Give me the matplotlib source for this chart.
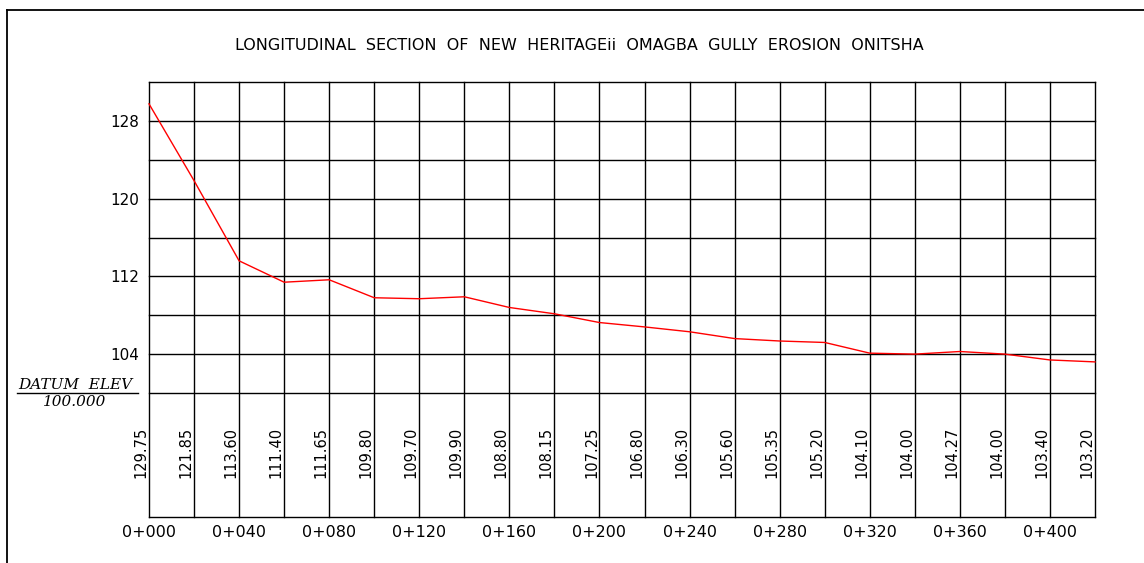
import matplotlib
matplotlib.use("Agg")
import matplotlib.pyplot as plt

# chainage (m) and ground level (m) along the gully
chainage = list(range(0, 421, 20))
ground_level = [129.75, 121.85, 113.60, 111.40, 111.65, 109.80, 109.70, 109.90,
                108.80, 108.15, 107.25, 106.80, 106.30, 105.60, 105.35, 105.20,
                104.10, 104.00, 104.27, 104.00, 103.40, 103.20]
level_labels = ["129.75", "121.85", "113.60", "111.40", "111.65", "109.80",
                "109.70", "109.90", "108.80", "108.15", "107.25", "106.80",
                "106.30", "105.60", "105.35", "105.20", "104.10", "104.00",
                "104.27", "104.00", "103.40", "103.20"]
elev_ticks = [104, 112, 120, 128]
station_ticks = list(range(0, 401, 40))
station_labels = ["0+%03d" % s for s in station_ticks]

DATUM = 100.0
TOP = 132.0
title = "LONGITUDINAL  SECTION  OF  NEW  HERITAGEii  OMAGBA  GULLY  EROSION  ONITSHA"

W, H = 1144, 563
fig = plt.figure(figsize=(W / 100, H / 100), dpi=100)
fig.patch.set_facecolor("white")

# outer drawing frame
fig.add_artist(plt.Line2D([7 / W, 7 / W], [0, 1 - 10 / H], color="black", lw=1.3))
fig.add_artist(plt.Line2D([7 / W, 1], [1 - 10 / H, 1 - 10 / H], color="black", lw=1.3))

# plot area (grid region above the datum)
x0, x1 = 149, 1095
y_top, y_datum, y_band = 82, 393, 517
ax = fig.add_axes([x0 / W, 1 - y_datum / H, (x1 - x0) / W, (y_datum - y_top) / H])
ax.set_xlim(0, 420)
ax.set_ylim(DATUM, TOP)
for s in ax.spines.values():
    s.set_visible(False)
ax.set_xticks([])
ax.set_yticks(elev_ticks)
ax.set_yticklabels([str(v) for v in elev_ticks], fontsize=11)
ax.tick_params(axis="y", length=0, pad=7)

px_per_unit = (y_datum - y_top) / (TOP - DATUM)
band_bottom = DATUM - (y_band - y_datum) / px_per_unit

# grid
for e in range(int(DATUM), int(TOP) + 1, 4):
    ax.plot([0, 420], [e, e], color="black", lw=1, clip_on=False)
ax.plot([0, 420], [band_bottom, band_bottom], color="black", lw=1, clip_on=False)
for c in chainage:
    ax.plot([c, c], [band_bottom, TOP], color="black", lw=1, clip_on=False)

# ground profile
ax.plot(chainage, ground_level, color="red", lw=1, clip_on=False, zorder=5)

# ground level values in the band
px_per_m = (x1 - x0) / 420
for c, lab in zip(chainage, level_labels):
    ax.text(c - 8 / px_per_m, DATUM - 85 / px_per_unit, lab, rotation=90,
            ha="center", va="bottom", fontsize=10.5, clip_on=False)

# station labels
for s, lab in zip(station_ticks, station_labels):
    ax.text(s, band_bottom - 15 / px_per_unit, lab, ha="center", va="center",
            fontsize=11.5, clip_on=False)

# datum annotation
fig.text(75 / W, 1 - 385 / H, "DATUM  ELEV", ha="center", va="center",
         fontsize=11, family="DejaVu Serif", style="italic")
fig.add_artist(plt.Line2D([17 / W, 138 / W], [1 - 393 / H, 1 - 393 / H], color="black", lw=1))
fig.text(75 / W, 1 - 402 / H, "100.000", ha="center", va="center",
         fontsize=11, family="DejaVu Serif", style="italic")

fig.text(579 / W, 1 - 46 / H, title, ha="center", va="center", fontsize=11.5)

fig.savefig("out.png", dpi=100, facecolor="white")
